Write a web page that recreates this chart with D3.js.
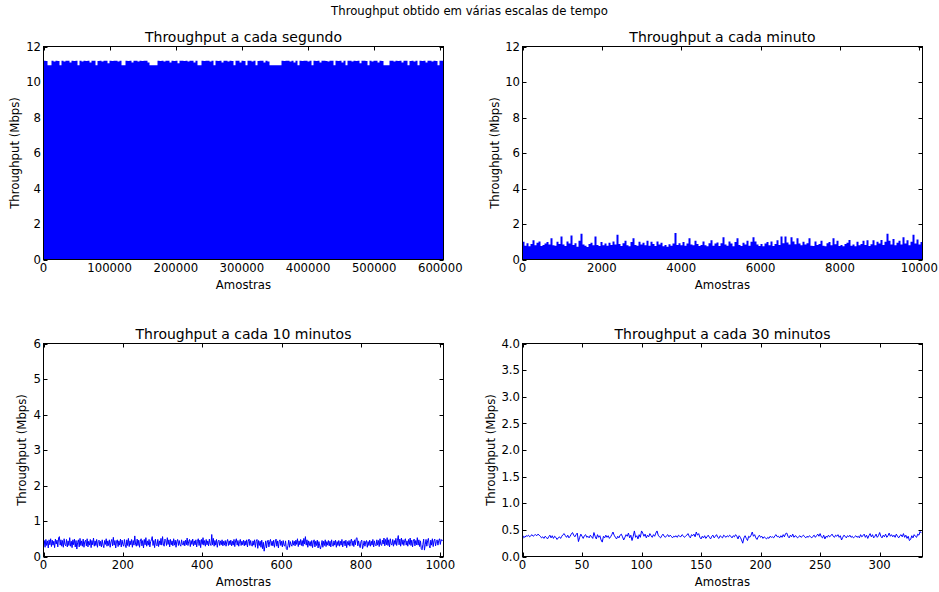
<!DOCTYPE html>
<html><head><meta charset="utf-8">
<script src="https://cdn.jsdelivr.net/npm/d3@7"></script>
<style>body{margin:0;background:#fff}svg{display:block;font-family:"DejaVu Sans",sans-serif}</style>
</head><body><svg id="c" width="939" height="592"></svg>
<script>
// ---- Data ----
// Panel 1: per-second throughput (604800 samples), shown as per-bucket maxima (min is 0)
const secondSamples = 604800;
const secondMax = [
11.2,11.18,10.95,10.95,11.2,11.15,11.2,11.18,10.95,11.2,11.16,11.2,11.2,11.1,11.2,11.18,11.2,10.95,11.2,11.15,
11.2,11.18,11.2,11.1,11.2,11.2,10.95,11.18,11.2,11.15,11.2,11.2,11.05,11.2,11.18,11.2,11.2,11.15,11.2,10.95,
10.95,11.2,11.18,11.2,11.1,11.2,11.2,11.15,11.2,11.18,11.2,11.2,11.1,10.95,10.95,10.95,10.95,11.2,11.18,11.2,
11.15,11.2,11.2,11.1,11.2,11.18,11.2,11.05,11.2,11.2,11.18,11.2,11.15,11.2,11.2,11.1,11.2,10.95,10.95,11.2,
11.18,11.2,11.2,11.15,11.2,10.95,11.2,11.18,11.2,11.1,11.2,11.2,11.15,11.2,11.18,10.95,11.2,11.2,11.1,11.2,
11.18,10.95,11.2,11.2,11.15,11.2,10.95,11.18,11.2,11.2,11.1,11.2,11.15,10.95,10.95,10.95,10.95,10.95,10.95,11.2,
11.18,11.2,11.2,11.15,11.2,11.1,11.2,10.95,11.2,11.18,11.2,11.2,11.15,11.2,10.95,11.2,11.18,11.2,11.1,11.2,
11.2,11.18,11.15,11.2,11.2,10.95,11.2,11.18,11.2,11.1,11.2,10.95,11.2,11.2,11.15,11.2,11.18,11.2,11.05,11.2,
11.2,11.18,10.95,11.2,11.15,11.2,11.2,11.1,11.2,11.18,10.95,10.95,10.95,11.2,11.2,11.15,11.2,11.18,11.2,11.1,
11.2,11.2,10.95,11.18,11.2,11.15,11.2,10.95,11.2,11.18,11.2,11.1,11.2,11.2,11.15,11.2,11.18,10.95,11.2,11.2];

// Panel 2: per-minute throughput (10080 samples), per-bucket maxima (min is 0)
const minuteSamples = 10080;
const minuteMax = [
1.0,0.78,0.92,0.75,0.88,1.08,0.8,0.95,1.02,0.76,0.82,0.9,0.98,0.85,1.2,0.8,0.78,1.0,0.88,1.3,
0.85,0.76,1.02,0.9,1.35,0.82,0.92,0.72,1.05,1.45,0.85,0.78,0.7,0.88,0.95,0.8,1.3,0.82,0.76,0.98,
0.8,0.9,0.78,0.95,0.82,1.02,0.85,1.4,0.88,0.76,0.92,1.05,0.8,0.74,0.98,1.2,0.82,0.78,1.0,0.85,
0.95,0.8,1.05,0.78,1.0,0.88,0.76,1.02,0.85,0.95,0.74,0.82,0.72,0.86,0.78,0.9,1.5,0.82,0.92,0.8,
0.98,0.78,0.9,1.2,0.85,0.8,1.05,0.88,0.76,0.82,1.02,0.8,0.75,0.92,1.08,0.78,0.9,0.96,0.76,0.92,
1.25,0.84,0.78,1.02,0.9,0.74,0.98,1.2,0.82,0.76,0.95,0.85,1.05,0.78,1.0,1.25,1.02,0.84,0.76,0.88,
0.74,0.9,0.98,0.8,1.02,0.76,0.88,1.08,0.82,1.3,0.92,1.3,0.96,0.84,1.25,1.02,0.86,1.2,0.9,0.8,
1.0,0.84,0.92,1.2,0.78,0.76,1.02,0.82,0.88,1.05,0.78,0.74,0.92,0.98,0.8,1.2,0.86,1.05,0.76,0.82,
0.74,0.88,0.95,1.1,0.78,0.85,0.74,1.0,0.8,0.88,1.05,0.82,1.08,0.76,0.86,1.08,0.8,1.0,0.9,1.1,
0.82,1.0,1.45,1.05,0.85,1.15,0.8,0.95,1.05,0.84,1.25,0.9,1.08,0.8,1.0,1.4,0.9,1.12,0.84,0.98];

// Panel 3: per-10-minute throughput (1008 samples), every 2nd sample
const tenMinSamples = 1008;
const tenMin = [
0.28,0.45,0.26,0.48,0.31,0.44,0.24,0.47,0.33,0.50,0.28,0.46,0.32,0.43,0.25,0.49,0.35,0.46,0.27,0.52,0.56,0.32,0.47,0.29,
0.45,0.26,0.50,0.34,0.30,0.48,0.27,0.44,0.31,0.53,0.29,0.43,0.25,0.47,0.33,0.49,0.27,0.45,0.21,0.40,0.47,0.27,0.51,0.31,
0.44,0.29,0.49,0.26,0.42,0.46,0.30,0.50,0.27,0.43,0.32,0.48,0.25,0.45,0.33,0.52,0.29,0.44,0.31,0.48,0.26,0.42,0.46,0.30,
0.43,0.27,0.47,0.32,0.25,0.45,0.34,0.50,0.29,0.44,0.31,0.47,0.26,0.41,0.48,0.30,0.54,0.32,0.45,0.24,0.43,0.47,0.28,0.44,
0.32,0.49,0.27,0.46,0.34,0.29,0.48,0.33,0.25,0.47,0.31,0.51,0.28,0.44,0.33,0.48,0.26,0.45,0.32,0.58,0.35,0.29,0.49,0.31,
0.46,0.26,0.43,0.50,0.30,0.45,0.24,0.48,0.33,0.53,0.29,0.44,0.32,0.48,0.27,0.42,0.47,0.56,0.31,0.45,0.25,0.49,0.34,0.30,
0.48,0.28,0.44,0.33,0.51,0.32,0.56,0.35,0.29,0.49,0.45,0.31,0.53,0.34,0.47,0.27,0.48,0.33,0.44,0.30,0.50,0.32,0.46,0.26,
0.43,0.48,0.31,0.45,0.33,0.29,0.47,0.34,0.32,0.44,0.30,0.46,0.33,0.52,0.31,0.43,0.48,0.28,0.45,0.34,0.49,0.30,0.44,0.33,
0.47,0.27,0.43,0.50,0.31,0.46,0.25,0.48,0.34,0.53,0.32,0.45,0.29,0.48,0.33,0.44,0.30,0.49,0.35,0.31,0.62,0.33,0.51,0.29,
0.45,0.32,0.48,0.26,0.42,0.46,0.31,0.44,0.33,0.47,0.30,0.43,0.32,0.45,0.29,0.42,0.48,0.31,0.44,0.33,0.46,0.30,0.43,0.32,
0.48,0.28,0.44,0.50,0.32,0.45,0.29,0.42,0.48,0.31,0.43,0.33,0.46,0.30,0.44,0.32,0.47,0.27,0.43,0.49,0.31,0.45,0.33,0.29,
0.44,0.32,0.47,0.26,0.42,0.48,0.23,0.45,0.31,0.43,0.26,0.46,0.22,0.40,0.15,0.29,0.44,0.24,0.41,0.46,0.27,0.42,0.48,0.31,
0.43,0.30,0.46,0.26,0.41,0.49,0.29,0.44,0.24,0.42,0.47,0.31,0.43,0.27,0.45,0.32,0.29,0.44,0.22,0.19,0.31,0.46,0.26,0.42,
0.33,0.29,0.45,0.32,0.43,0.30,0.46,0.34,0.50,0.28,0.44,0.33,0.48,0.31,0.45,0.29,0.51,0.35,0.56,0.32,0.47,0.26,0.44,0.31,
0.42,0.29,0.45,0.25,0.41,0.47,0.27,0.43,0.31,0.46,0.24,0.42,0.30,0.21,0.32,0.45,0.26,0.43,0.31,0.47,0.28,0.42,0.32,0.45,
0.30,0.43,0.27,0.47,0.33,0.29,0.44,0.32,0.46,0.26,0.42,0.31,0.45,0.29,0.43,0.32,0.48,0.27,0.41,0.44,0.30,0.46,0.25,0.42,
0.32,0.45,0.29,0.43,0.49,0.31,0.44,0.28,0.47,0.33,0.51,0.53,0.30,0.44,0.32,0.25,0.42,0.46,0.22,0.31,0.44,0.29,0.41,0.45,
0.26,0.42,0.31,0.46,0.29,0.43,0.32,0.48,0.27,0.44,0.33,0.30,0.47,0.32,0.45,0.28,0.50,0.34,0.31,0.46,0.35,0.52,0.30,0.48,
0.33,0.53,0.31,0.47,0.27,0.50,0.35,0.32,0.48,0.29,0.45,0.34,0.51,0.31,0.46,0.59,0.33,0.49,0.29,0.52,0.34,0.47,0.31,0.45,
0.50,0.32,0.44,0.29,0.48,0.34,0.52,0.31,0.46,0.27,0.43,0.49,0.30,0.45,0.33,0.53,0.32,0.47,0.28,0.44,0.22,0.19,0.34,0.49,
0.18,0.33,0.48,0.29,0.45,0.51,0.31,0.24,0.46,0.32,0.50,0.28,0.44,0.49,0.30,0.42,0.47,0.32,0.45,0.50,0.34,0.48,0.44,0.46];

// Panel 4: per-30-minute throughput (336 samples)
const thirtyMinSamples = 336;
const thirtyMin = [
0.33,0.38,0.36,0.39,0.38,0.40,0.37,0.39,0.41,0.38,0.40,0.41,0.39,0.42,0.40,0.38,0.35,0.37,0.34,0.38,0.36,0.33,0.37,0.40,
0.35,0.39,0.34,0.38,0.36,0.32,0.35,0.37,0.34,0.38,0.41,0.43,0.39,0.36,0.40,0.35,0.38,0.42,0.45,0.40,0.37,0.41,0.44,0.28,
0.36,0.42,0.38,0.34,0.39,0.41,0.36,0.38,0.35,0.40,0.37,0.34,0.45,0.38,0.33,0.41,0.36,0.39,0.31,0.27,0.38,0.35,0.40,0.36,
0.39,0.34,0.37,0.41,0.46,0.40,0.36,0.33,0.38,0.35,0.40,0.42,0.37,0.31,0.36,0.41,0.38,0.44,0.35,0.40,0.30,0.38,0.48,0.36,
0.39,0.33,0.41,0.36,0.48,0.44,0.38,0.42,0.35,0.40,0.37,0.43,0.39,0.36,0.41,0.38,0.44,0.48,0.40,0.37,0.35,0.39,0.42,0.38,
0.36,0.39,0.41,0.37,0.40,0.38,0.35,0.38,0.37,0.39,0.36,0.40,0.38,0.37,0.41,0.39,0.36,0.38,0.40,0.43,0.38,0.35,0.41,0.39,
0.42,0.37,0.46,0.40,0.43,0.36,0.33,0.38,0.35,0.39,0.34,0.37,0.40,0.36,0.33,0.38,0.40,0.35,0.38,0.41,0.36,0.34,0.39,0.37,
0.35,0.40,0.38,0.36,0.39,0.37,0.40,0.38,0.35,0.39,0.37,0.41,0.38,0.33,0.39,0.36,0.31,0.25,0.35,0.39,0.34,0.30,0.38,0.36,
0.40,0.46,0.38,0.41,0.35,0.32,0.37,0.40,0.36,0.38,0.34,0.37,0.35,0.33,0.36,0.34,0.38,0.36,0.37,0.35,0.39,0.41,0.37,0.38,
0.35,0.39,0.36,0.41,0.37,0.43,0.44,0.38,0.35,0.40,0.37,0.42,0.36,0.39,0.38,0.35,0.37,0.39,0.36,0.38,0.40,0.37,0.35,0.38,
0.36,0.39,0.37,0.35,0.38,0.40,0.36,0.39,0.42,0.38,0.43,0.37,0.35,0.40,0.33,0.38,0.36,0.40,0.37,0.39,0.42,0.38,0.36,0.40,
0.38,0.41,0.36,0.39,0.31,0.36,0.40,0.38,0.35,0.39,0.37,0.40,0.36,0.38,0.35,0.37,0.39,0.36,0.38,0.35,0.41,0.37,0.39,0.42,
0.36,0.40,0.34,0.39,0.43,0.37,0.41,0.35,0.38,0.42,0.36,0.39,0.45,0.38,0.35,0.40,0.37,0.42,0.36,0.39,0.44,0.38,0.41,0.37,
0.40,0.36,0.42,0.38,0.35,0.39,0.41,0.37,0.43,0.36,0.40,0.34,0.38,0.30,0.32,0.39,0.35,0.41,0.38,0.36,0.42,0.40,0.47,0.44];

// Tick values
const xTicks1 = [0,100000,200000,300000,400000,500000,600000];
const yTicks1 = [0,2,4,6,8,10,12];
const xTicks2 = [0,2000,4000,6000,8000,10000];
const yTicks2 = [0,2,4,6,8,10,12];
const xTicks3 = [0,200,400,600,800,1000];
const yTicks3 = [0,1,2,3,4,5,6];
const xTicks4 = [0,50,100,150,200,250,300];
const yTicks4 = [0,0.5,1,1.5,2,2.5,3,3.5,4];

const titles = ["Throughput a cada segundo","Throughput a cada minuto","Throughput a cada 10 minutos","Throughput a cada 30 minutos"];
const suptitle = "Throughput obtido em várias escalas de tempo";
const xLabel = "Amostras", yLabel = "Throughput (Mbps)";
const BLUE = "#0000ff";

// ---- Layout ----
const svg = d3.select("#c");
const W = 400, H = 213;
const panels = [
  {l:43.5, t:46.5, xd:[0,secondSamples], yd:[0,12], xt:xTicks1, yt:yTicks1, yf:d3.format("d"), ylx:15.5, kind:"env", data:secondMax, n:secondSamples},
  {l:522.5, t:46.5, xd:[0,minuteSamples], yd:[0,12], xt:xTicks2, yt:yTicks2, yf:d3.format("d"), ylx:495.5, kind:"env", data:minuteMax, n:minuteSamples},
  {l:43.5, t:343.5, xd:[0,tenMinSamples], yd:[0,6], xt:xTicks3, yt:yTicks3, yf:d3.format("d"), ylx:22.5, kind:"line", data:tenMin, n:tenMinSamples},
  {l:522.5, t:343.5, xd:[0,thirtyMinSamples], yd:[0,4], xt:xTicks4, yt:yTicks4, yf:d3.format(".1f"), ylx:491, kind:"line", data:thirtyMin, n:thirtyMinSamples}
];

svg.append("text").attr("x",469.5).attr("y",15).attr("text-anchor","middle")
  .attr("font-size","11.7px").attr("fill","#000").text(suptitle);

panels.forEach((p,k)=>{
  const x = d3.scaleLinear().domain(p.xd).range([p.l, p.l+W]);
  const y = d3.scaleLinear().domain(p.yd).range([p.t+H, p.t]);
  const g = svg.append("g");
  const cid = "clip"+k;
  svg.append("clipPath").attr("id",cid).append("rect")
    .attr("x",p.l).attr("y",p.t).attr("width",W).attr("height",H);

  // ticks (inside, all four sides)
  const tl = 4;
  const tg = g.append("g").attr("stroke","#000").attr("stroke-width",1);
  p.xt.forEach(v=>{
    const xx = Math.round(x(v))+0.5;
    tg.append("line").attr("x1",xx).attr("x2",xx).attr("y1",p.t+H).attr("y2",p.t+H-tl);
    tg.append("line").attr("x1",xx).attr("x2",xx).attr("y1",p.t).attr("y2",p.t+tl);
  });
  p.yt.forEach(v=>{
    const yy = Math.round(y(v))+0.5;
    tg.append("line").attr("y1",yy).attr("y2",yy).attr("x1",p.l).attr("x2",p.l+tl);
    tg.append("line").attr("y1",yy).attr("y2",yy).attr("x1",p.l+W).attr("x2",p.l+W-tl);
  });

  // data
  const dg = g.append("g").attr("clip-path",`url(#${cid})`);
  if(p.kind==="env"){
    const bin = p.n / p.data.length;
    const pts = p.data.map((v,i)=>[i*bin, v]);
    pts.push([p.n, p.data[p.data.length-1]]);
    const area = d3.area().x(d=>x(d[0])).y0(y(0)).y1(d=>y(d[1])).curve(d3.curveStepAfter);
    dg.append("path").attr("d",area(pts)).attr("fill",BLUE).attr("stroke","none");
  } else {
    const step = p.n / p.data.length;
    const line = d3.line().x((d,i)=>x(i*step)).y(d=>y(d));
    dg.append("path").attr("d",line(p.data)).attr("fill","none").attr("stroke",BLUE)
      .attr("stroke-width",1).attr("stroke-linejoin","round");
  }

  // frame
  g.append("rect").attr("x",p.l).attr("y",p.t).attr("width",W).attr("height",H)
    .attr("fill","none").attr("stroke","#000").attr("stroke-width",1);

  // tick labels
  const lg = g.append("g").attr("font-size","11.7px").attr("fill","#000");
  p.xt.forEach(v=>{
    lg.append("text").attr("x",x(v)).attr("y",p.t+H+12.5).attr("text-anchor","middle").text(d3.format("d")(v));
  });
  p.yt.forEach(v=>{
    lg.append("text").attr("x",p.l-2.5).attr("y",y(v)).attr("dy","0.36em").attr("text-anchor","end").text(p.yf(v));
  });

  // title & labels
  g.append("text").attr("x",p.l+W/2).attr("y",p.t-5).attr("text-anchor","middle")
    .attr("font-size","14px").attr("fill","#000").text(titles[k]);
  g.append("text").attr("x",p.l+W/2).attr("y",p.t+H+29).attr("text-anchor","middle")
    .attr("font-size","11.7px").attr("fill","#000").text(xLabel);
  g.append("text").attr("transform",`translate(${p.ylx},${p.t+H/2}) rotate(-90)`)
    .attr("dy","0.31em").attr("text-anchor","middle")
    .attr("font-size","11.7px").attr("fill","#000").text(yLabel);
});
</script></body></html>
